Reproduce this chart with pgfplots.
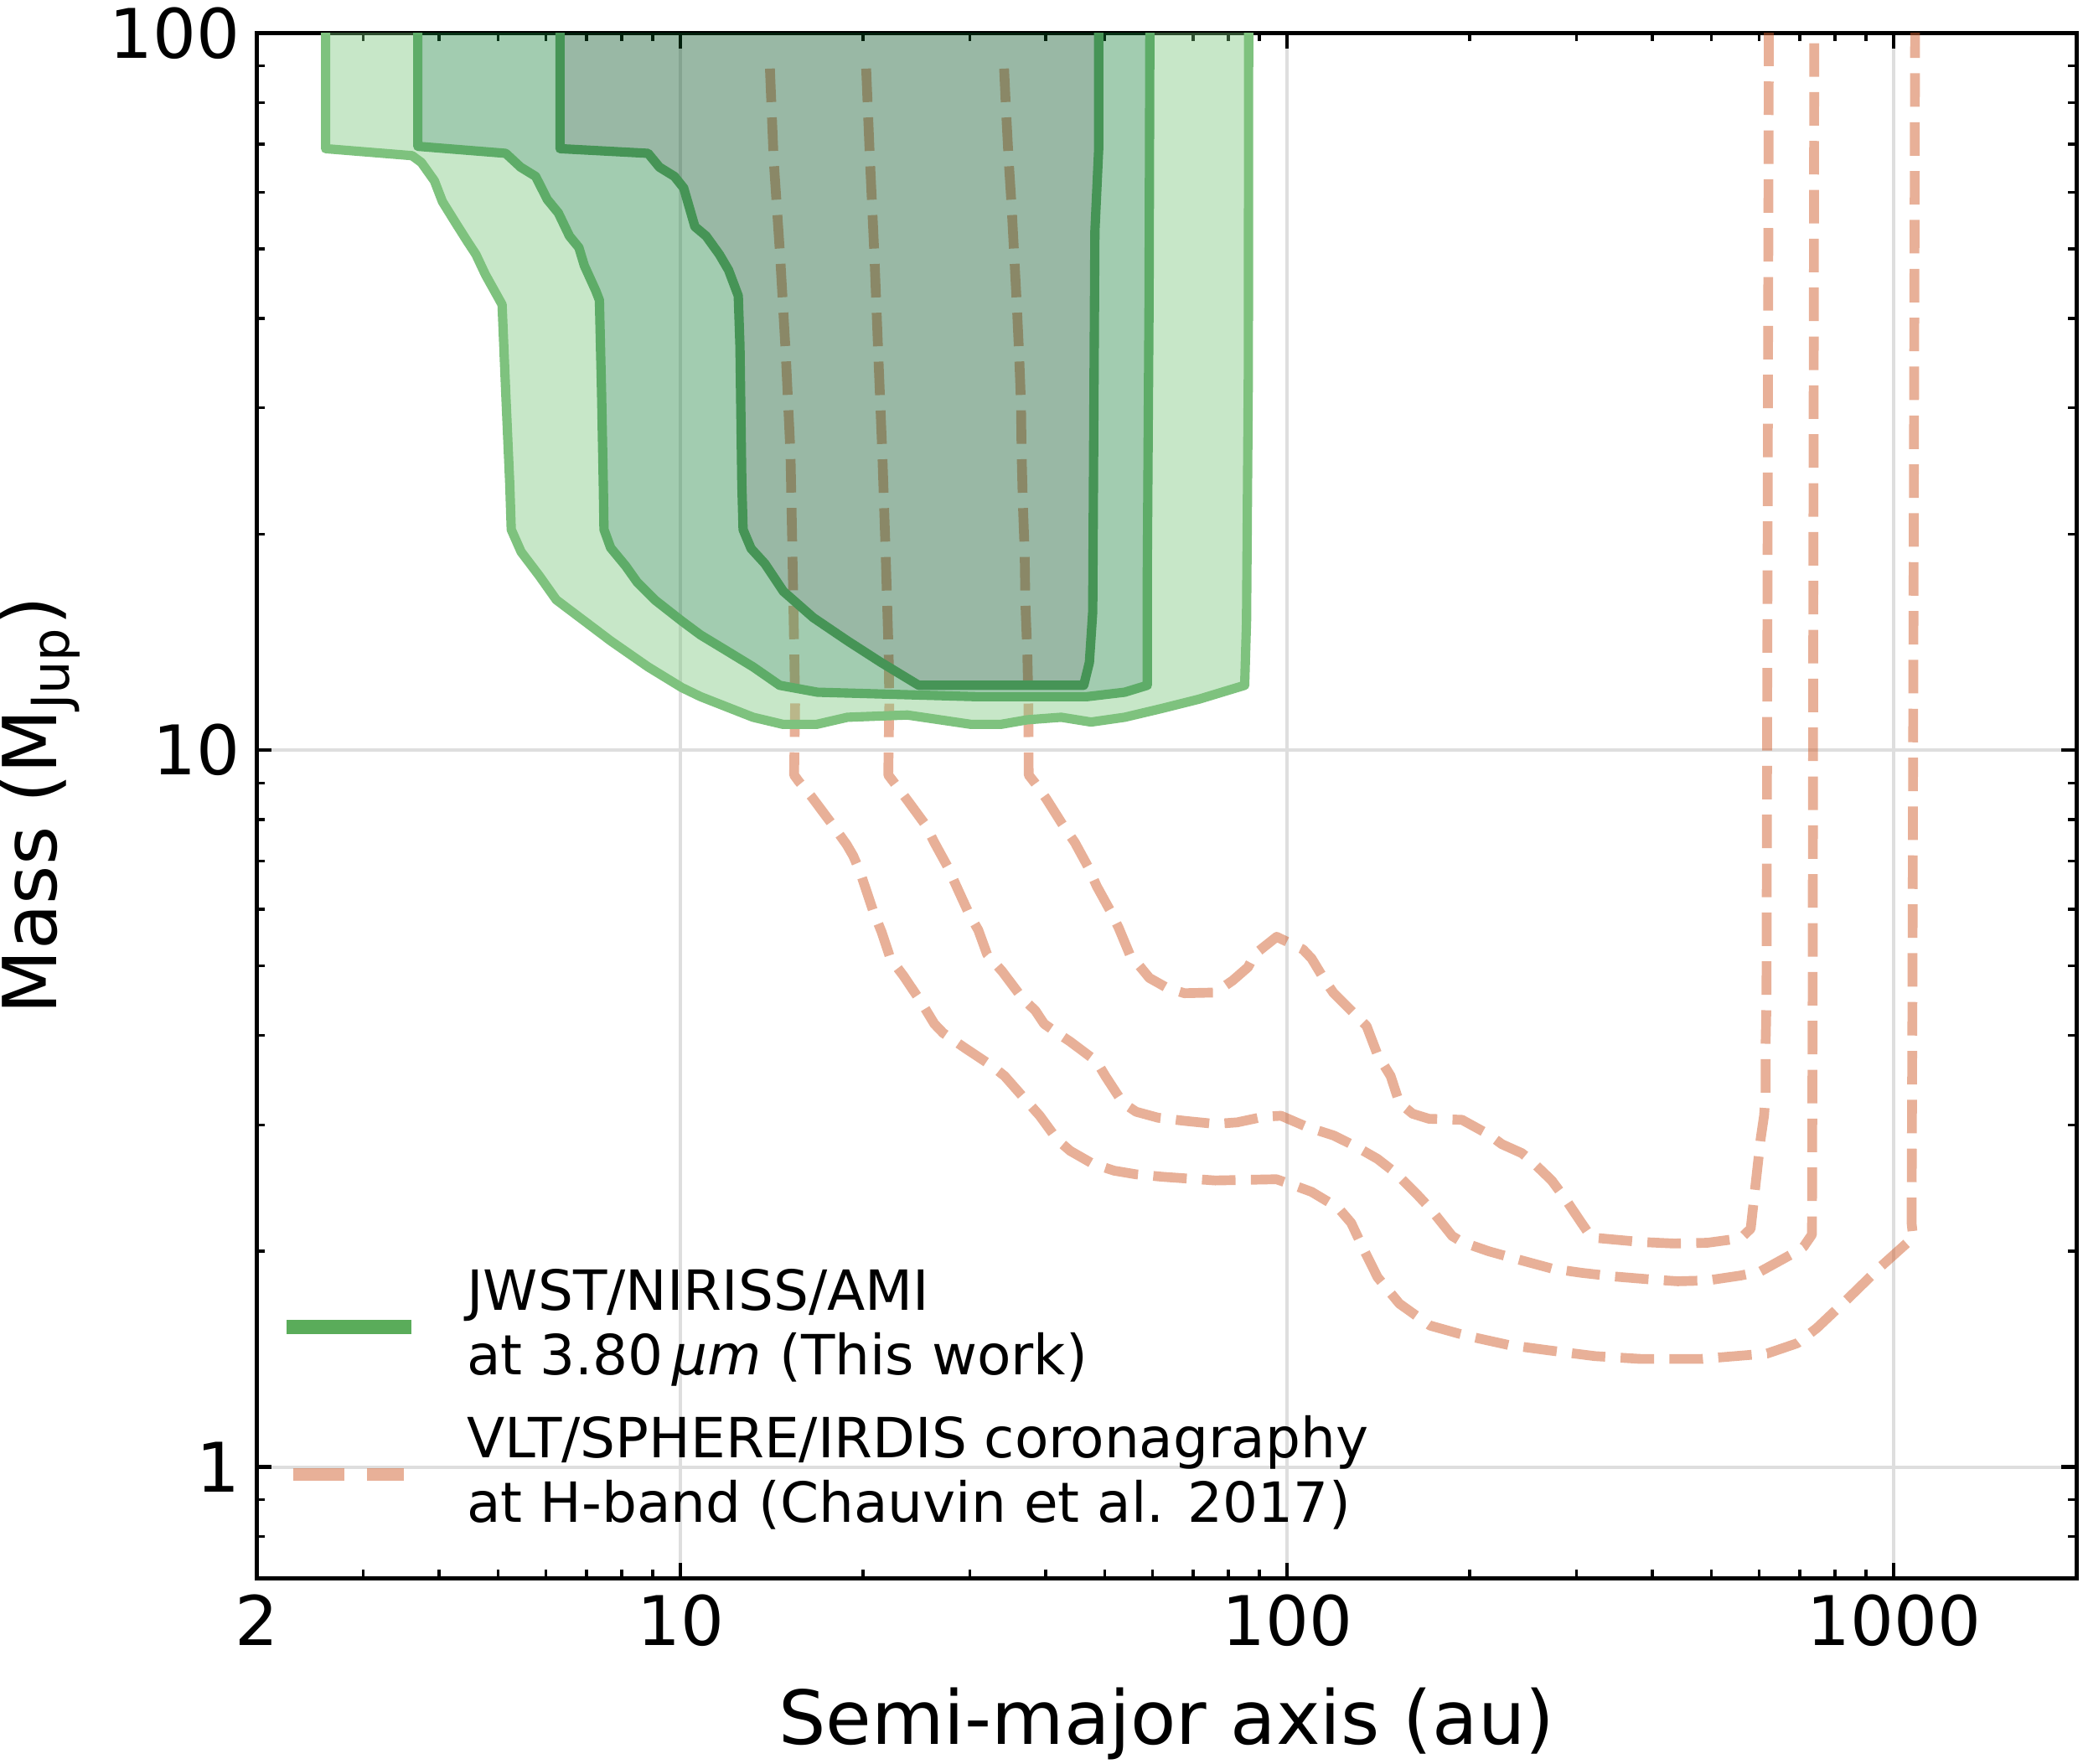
\documentclass[border=0pt]{standalone}
\usepackage{fontspec}
\setmainfont{DejaVu Sans}
\usepackage{pgfplots}
\pgfplotsset{compat=1.18}
\definecolor{lightG}{RGB}{116,196,118}
\definecolor{medG}{RGB}{22,127,57}
\definecolor{darkG}{RGB}{0,78,30}
\definecolor{edgeL}{RGB}{126,194,126}
\definecolor{edgeM}{RGB}{94,172,104}
\definecolor{edgeD}{RGB}{70,148,86}
\definecolor{legG}{RGB}{90,172,90}
\definecolor{salm}{RGB}{209,97,49}
\definecolor{gridc}{RGB}{222,222,222}
\begin{document}
\begin{tikzpicture}
\begin{axis}[
  at={(0,0)}, anchor=south west,
  scale only axis, width=391pt, height=331.9pt,
  xmode=log, ymode=log,
  xmin=2, xmax=2000, ymin=0.7, ymax=100,
  xtick={2,10,100,1000}, xticklabels={2,10,100,1000},
  minor xtick={3,4,5,6,7,8,9,20,30,40,50,60,70,80,90,200,300,400,500,600,700,800,900,2000},
  ytick={1,10,100}, yticklabels={1,10,100},
  minor ytick={0.7,0.8,0.9,2,3,4,5,6,7,8,9,20,30,40,50,60,70,80,90},
  tick align=inside, xtick pos=both, ytick pos=both,
  major tick length=3.3pt, minor tick length=1.8pt,
  every tick/.style={black, line width=0.8pt},
  every minor tick/.style={black, line width=0.6pt},
  grid=major, major grid style={gridc, line width=0.75pt},
  axis line style={line width=0.9pt},
  tick label style={font=\fontsize{14.7}{17}\selectfont},
  every axis x label/.style={at={(axis description cs:0.5,0)}, anchor=base, yshift=-35.7pt, font=\fontsize{16}{19}\selectfont},
  every axis y label/.style={at={(axis description cs:-0.1189,0.5)}, rotate=90, anchor=center, font=\fontsize{16}{19}\selectfont},
  xlabel={Semi-major axis (au)},
  ylabel={Mass (M\textsubscript{Jup})},
  legend cell align=left,
  legend image code/.code={\draw[#1] (0pt,-4.1pt) -- (23.9pt,-4.1pt); \path (35.9pt,-4.1pt);},
  legend style={at={(axis description cs:0,0)}, anchor=south west, draw=none, fill=none,
    xshift=6.2pt, yshift=17pt, inner sep=0pt, row sep=13.4pt,
    font=\fontsize{11.9}{13.8}\selectfont,
    nodes={inner sep=0pt}},
]
\addlegendimage{legG, line width=2.9pt, line cap=rect}
\addlegendentry{\begin{tabular}{@{}l@{}}JWST/NIRISS/AMI\\at 3.80\,\textit{μm} (This work)\end{tabular}}
\addlegendimage{salm, draw opacity=0.5, line width=2.8pt, line cap=butt, dash pattern=on 11pt off 4.9pt}
\addlegendentry{\begin{tabular}{@{}l@{}}VLT/SPHERE/IRDIS coronagraphy\\at H-band (Chauvin et al. 2017)\end{tabular}}

% VLT/SPHERE/IRDIS detection limits (dashed)
\addplot[forget plot, salm, draw opacity=0.5, line width=2.1pt, line cap=butt, line join=round, dash pattern=on 7.2pt off 3.3pt] coordinates {
(14.04,89.2) (14.24,66.7) (14.59,49.1) (14.91,35.7) (15.18,25.9) (15.29,18.9) (15.40,13.64) (15.45,11.65) (15.39,9.23) (15.65,9.05) (16.44,8.61) (17.72,7.91) (18.79,7.38) (19.26,7.12) (19.75,6.78) (20.75,5.98) (21.46,5.57) (22.18,5.12) (23.32,4.84) (24.93,4.45) (26.21,4.15) (27.1,4.03) (29.45,3.84) (32.55,3.63) (34.22,3.51) (37.19,3.24) (39.1,3.09) (41.8,2.86) (43.9,2.76) (47.75,2.65) (51.87,2.59) (56.37,2.56) (62.3,2.54) (76.1,2.51) (96.0,2.52) (102.7,2.47) (109.7,2.42) (121.3,2.30) (127.5,2.19) (133.0,2.03) (140.9,1.84) (153.1,1.69) (172.1,1.575) (191.8,1.535) (204.3,1.515) (231.7,1.48) (269.4,1.455) (321.4,1.428) (383.3,1.415) (481,1.415) (618.3,1.44) (692.7,1.488) (746.9,1.563) (836.7,1.712) (949,1.90) (1076,2.09) (1069.6,2.19) (1073,4.44) (1084,100) (1085,110)
};
\addplot[forget plot, salm, draw opacity=0.5, line width=2.1pt, line cap=butt, line join=round, dash pattern=on 7.2pt off 3.3pt] coordinates {
(20.23,89.2) (20.52,66.7) (20.87,49.1) (21.18,35.7) (21.51,25.9) (21.78,18.9) (22.03,13.64) (22.09,11.65) (22.0,9.23) (22.55,8.98) (23.71,8.49) (25.35,7.86) (26.21,7.43) (27.55,6.88) (28.49,6.46) (29.95,5.89) (30.96,5.61) (32.01,5.19) (33.92,4.91) (36.58,4.51) (38.46,4.33) (39.76,4.15) (41.8,4.03) (43.9,3.92) (48.5,3.68) (50.15,3.51) (53.6,3.22) (56.37,3.13) (61.3,3.07) (67.7,3.04) (76.1,3.01) (82.7,3.025) (91.4,3.08) (97.7,3.09) (107.9,2.98) (119.3,2.90) (129.7,2.80) (140.9,2.69) (150.6,2.575) (163.7,2.40) (172.4,2.29) (187.1,2.10) (194.2,2.06) (214.8,2.00) (237.6,1.953) (272.9,1.892) (305.6,1.866) (346.7,1.844) (393.1,1.828) (440.1,1.816) (493.2,1.821) (559.3,1.85) (603.2,1.875) (692.7,2.00) (710.4,2.03) (733.0,2.11) (734.8,4.44) (739.4,100) (740,110)
};
\addplot[forget plot, salm, draw opacity=0.5, line width=2.1pt, line cap=butt, line join=round, dash pattern=on 7.2pt off 3.3pt] coordinates {
(34.15,89.2) (34.39,78.5) (34.74,66.7) (35.13,57.5) (35.48,49.1) (35.84,41.8) (36.15,35.7) (36.41,30.4) (36.50,25.9) (36.67,22.07) (36.92,18.9) (37.02,16.04) (37.30,13.64) (37.45,11.65) (37.49,9.23) (38.46,8.98) (40.08,8.55) (42.48,7.91) (44.67,7.43) (46.94,6.88) (48.53,6.46) (51.03,5.98) (52.75,5.65) (55.0,5.19) (57.3,4.98) (59.27,4.81) (63.36,4.66) (67.7,4.58) (76.1,4.59) (81.3,4.77) (86.2,4.98) (88.4,5.19) (96.1,5.49) (106.2,5.27) (109.7,5.12) (115.4,4.77) (119.3,4.58) (127.5,4.33) (135.2,4.12) (140.9,3.76) (148.1,3.51) (153.1,3.22) (161.0,3.11) (171.3,3.06) (194.2,3.05) (214.8,2.91) (225.9,2.82) (243.7,2.74) (253,2.67) (272.9,2.51) (287,2.37) (305.6,2.19) (317.4,2.09) (338,2.08) (383.3,2.06) (434.6,2.05) (493.2,2.055) (559.3,2.085) (580.8,2.15) (591.7,2.48) (603.2,2.87) (611,3.09) (614.6,3.31) (614.6,3.87) (616.7,4.44) (622.2,100) (622.5,110)
};

% JWST/NIRISS/AMI bands (outer band = outer contour minus middle contour, etc.)
\addplot[forget plot, draw=none, fill=lightG, fill opacity=0.4] coordinates {
(2.60,110) (2.60,68.98) (3.61,67.45) (3.74,65.98) (3.93,62.2) (4.05,58.2) (4.25,54.5) (4.44,51.4) (4.60,49.1) (4.77,46.0) (5.01,42.7) (5.08,41.8) (5.15,31.6) (5.23,23.5) (5.26,20.3) (5.46,18.9) (5.85,17.5) (6.24,16.2) (7.04,15.0) (7.67,14.2) (8.84,13.06) (10.05,12.22) (10.79,11.87) (13.17,11.11) (14.75,10.86) (16.77,10.86) (18.85,11.11) (23.65,11.19) (30.1,10.86) (33.75,10.86) (37.3,11.02) (42.4,11.11) (47.5,10.94) (53.97,11.11) (62.2,11.43) (71.7,11.78) (85.1,12.31) (85.7,15.13) (86.3,34.0) (86.4,110)
(59.4,110) (59.2,42.4) (58.8,17.5) (58.8,12.31) (53.97,12.04) (46.8,11.87) (30.6,11.87) (16.82,12.04) (14.57,12.31) (13.17,13.06) (11.92,13.75) (10.79,14.47) (10.05,15.13) (9.10,16.16) (8.48,17.15) (8.12,18.06) (7.67,19.15) (7.48,20.3) (7.46,23.5) (7.41,31.6) (7.35,42.4) (7.25,43.7) (6.94,47.4) (6.80,50.2) (6.56,52.1) (6.29,56.1) (6.03,58.6) (5.77,63.1) (5.45,65.0) (5.15,67.95) (3.69,69.5) (3.69,110)
};
\addplot[forget plot, draw=none, fill=medG, fill opacity=0.4] coordinates {
(3.69,110) (3.69,69.5) (5.15,67.95) (5.45,65.0) (5.77,63.1) (6.03,58.6) (6.29,56.1) (6.56,52.1) (6.80,50.2) (6.94,47.4) (7.25,43.7) (7.35,42.4) (7.41,31.6) (7.46,23.5) (7.48,20.3) (7.67,19.15) (8.12,18.06) (8.48,17.15) (9.10,16.16) (10.05,15.13) (10.79,14.47) (11.92,13.75) (13.17,13.06) (14.57,12.31) (16.82,12.04) (30.6,11.87) (46.8,11.87) (53.97,12.04) (58.8,12.31) (58.8,17.5) (59.2,42.4) (59.4,110)
(48.9,110) (48.9,68.98) (48.2,52.9) (47.8,15.58) (47.2,13.25) (46.2,12.31) (24.7,12.31) (21.4,13.25) (18.85,14.2) (16.55,15.3) (14.77,16.65) (13.77,18.2) (13.07,19.1) (12.68,20.3) (12.62,23.5) (12.53,36.6) (12.45,43.0) (12.0,46.7) (11.59,49.1) (11.02,52.1) (10.56,53.7) (10.12,60.8) (9.77,63.1) (9.23,65.0) (8.84,67.95) (6.33,68.98) (6.33,110)
};
\addplot[forget plot, draw=none, fill=darkG, fill opacity=0.4] coordinates {
(6.33,110) (6.33,68.98) (8.84,67.95) (9.23,65.0) (9.77,63.1) (10.12,60.8) (10.56,53.7) (11.02,52.1) (11.59,49.1) (12.0,46.7) (12.45,43.0) (12.53,36.6) (12.62,23.5) (12.68,20.3) (13.07,19.1) (13.77,18.2) (14.77,16.65) (16.55,15.3) (18.85,14.2) (21.4,13.25) (24.7,12.31) (46.2,12.31) (47.2,13.25) (47.8,15.58) (48.2,52.9) (48.9,68.98) (48.9,110)
};
% contour edges
\addplot[forget plot, edgeL, line width=2pt, line join=round] coordinates {
(2.60,110) (2.60,68.98) (3.61,67.45) (3.74,65.98) (3.93,62.2) (4.05,58.2) (4.25,54.5) (4.44,51.4) (4.60,49.1) (4.77,46.0) (5.01,42.7) (5.08,41.8) (5.15,31.6) (5.23,23.5) (5.26,20.3) (5.46,18.9) (5.85,17.5) (6.24,16.2) (7.04,15.0) (7.67,14.2) (8.84,13.06) (10.05,12.22) (10.79,11.87) (13.17,11.11) (14.75,10.86) (16.77,10.86) (18.85,11.11) (23.65,11.19) (30.1,10.86) (33.75,10.86) (37.3,11.02) (42.4,11.11) (47.5,10.94) (53.97,11.11) (62.2,11.43) (71.7,11.78) (85.1,12.31) (85.7,15.13) (86.3,34.0) (86.4,110)
};
\addplot[forget plot, edgeM, line width=2pt, line join=round] coordinates {
(3.69,110) (3.69,69.5) (5.15,67.95) (5.45,65.0) (5.77,63.1) (6.03,58.6) (6.29,56.1) (6.56,52.1) (6.80,50.2) (6.94,47.4) (7.25,43.7) (7.35,42.4) (7.41,31.6) (7.46,23.5) (7.48,20.3) (7.67,19.15) (8.12,18.06) (8.48,17.15) (9.10,16.16) (10.05,15.13) (10.79,14.47) (11.92,13.75) (13.17,13.06) (14.57,12.31) (16.82,12.04) (30.6,11.87) (46.8,11.87) (53.97,12.04) (58.8,12.31) (58.8,17.5) (59.2,42.4) (59.4,110)
};
\addplot[forget plot, edgeD, line width=2pt, line join=round] coordinates {
(6.33,110) (6.33,68.98) (8.84,67.95) (9.23,65.0) (9.77,63.1) (10.12,60.8) (10.56,53.7) (11.02,52.1) (11.59,49.1) (12.0,46.7) (12.45,43.0) (12.53,36.6) (12.62,23.5) (12.68,20.3) (13.07,19.1) (13.77,18.2) (14.77,16.65) (16.55,15.3) (18.85,14.2) (21.4,13.25) (24.7,12.31) (46.2,12.31) (47.2,13.25) (47.8,15.58) (48.2,52.9) (48.9,68.98) (48.9,110)
};
\end{axis}
\pgfresetboundingbox
\path[use as bounding box] (-55.1pt,-39.9pt) rectangle (392.4pt,339.0pt);
\end{tikzpicture}
\end{document}
